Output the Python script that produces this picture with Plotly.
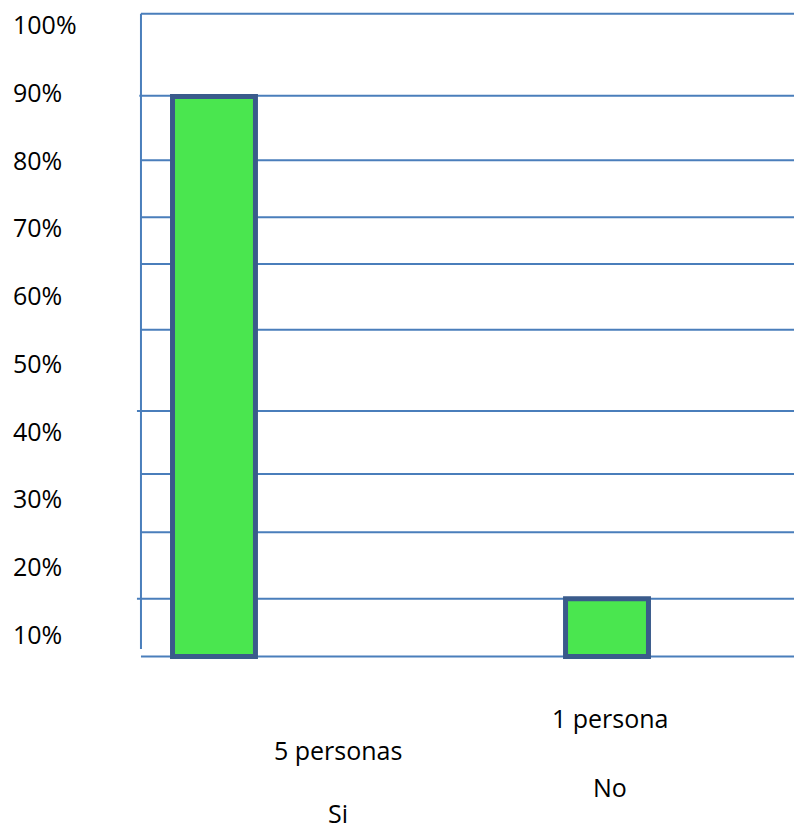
import plotly.graph_objects as go

# ---- data ----
answers = ["Si", "No"]
people = ["5 personas", "1 persona"]
percentages = [89.3, 15.2]
tick_values = [10, 20, 30, 40, 50, 60, 70, 80, 90, 100]
tick_labels = ["10%", "20%", "30%", "40%", "50%", "60%", "70%", "80%", "90%", "100%"]
grid_levels = [101.5, 89.4, 79.9, 71.5, 64.6, 54.9, 42.9, 33.6, 25.0, 15.2, 6.7]

# ---- layout constants ----
W, H = 794, 829
L, R, T, B = 130, 0, 10, 164
bar_x = [0, 1]
x_range = [-0.2137, 1.4758]
y_range = [5.43, 102.06]
axis_x = -0.1858
axis_bottom = 7.8
grid_start = [-0.1858, -0.19, -0.1858, -0.1858, -0.1858, -0.1858, -0.196, -0.1858, -0.1858, -0.196, -0.1858]
label_x = [0.3155, 1.008]
count_label_y = [750, 718]
answer_label_y = [813, 787]

FONT = "Open Sans"
FS = 25
LINE = "#4a7ebb"

fig = go.Figure()
fig.add_trace(go.Bar(
    x=bar_x, y=[p - grid_levels[-1] for p in percentages], base=grid_levels[-1],
    width=0.211,
    marker=dict(color="#4ae64f", line=dict(color="#3a5b8b", width=5)),
    hoverinfo="skip", showlegend=False,
))

shapes = []
for g, xs in zip(grid_levels, grid_start):
    shapes.append(dict(type="line", xref="x", yref="y", x0=xs, x1=x_range[1], y0=g, y1=g,
                       line=dict(color=LINE, width=2), layer="below"))
shapes.append(dict(type="line", xref="x", yref="y", x0=axis_x, x1=axis_x, y0=axis_bottom, y1=grid_levels[0],
                   line=dict(color=LINE, width=2), layer="below"))

ph = H - T - B
pw = W - L - R
annotations = []
for v, t in zip(tick_values, tick_labels):
    annotations.append(dict(xref="paper", yref="y", x=(11 - L) / pw, y=v, text=t,
                            xanchor="left", yanchor="middle", showarrow=False,
                            font=dict(family=FONT, size=FS, color="#000")))
for i in range(2):
    annotations.append(dict(xref="x", yref="paper", x=label_x[i],
                            y=(H - B - count_label_y[i]) / ph,
                            text=people[i], showarrow=False, xanchor="center", yanchor="middle",
                            font=dict(family=FONT, size=FS, color="#000")))
    annotations.append(dict(xref="x", yref="paper", x=label_x[i],
                            y=(H - B - answer_label_y[i]) / ph,
                            text=answers[i], showarrow=False, xanchor="center", yanchor="middle",
                            font=dict(family=FONT, size=FS, color="#000")))

fig.update_layout(
    width=W, height=H, autosize=False,
    margin=dict(l=L, r=R, t=T, b=B, pad=0),
    paper_bgcolor="white", plot_bgcolor="white",
    xaxis=dict(range=x_range, visible=False, fixedrange=True),
    yaxis=dict(range=y_range, visible=False, fixedrange=True),
    shapes=shapes, annotations=annotations,
)

fig.write_html("out.html", config={"displayModeBar": False},
               post_script="document.body.style.margin='0';document.body.style.overflow='hidden';")
